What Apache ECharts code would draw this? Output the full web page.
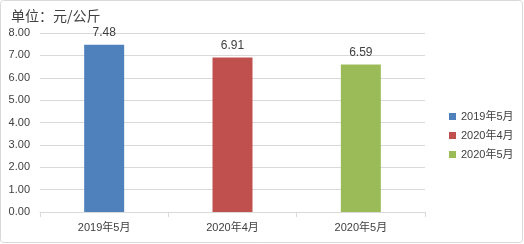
<!DOCTYPE html>
<html>
<head>
<meta charset="utf-8">
<script src="https://cdn.jsdelivr.net/npm/echarts@6/dist/echarts.min.js"></script>
<style>html,body{margin:0;padding:0;background:#fff;}#c{width:524px;height:244px;}</style>
</head>
<body>
<div id="c"></div>
<script>
var categories = ['2019年5月', '2020年4月', '2020年5月'];
var values = [7.48, 6.91, 6.59];
var colors = ['#4f81bd', '#c0504d', '#9bbb59'];
var yTicks = {min: 0, max: 8, interval: 1};
var unitTitle = '单位：元/公斤';

var font = 'Liberation Sans, "Noto Sans CJK SC", sans-serif';
var series = categories.map(function (name, i) {
  var d = categories.map(function (_, j) { return j === i ? values[i] : '-'; });
  return {
    name: name, type: 'bar', data: d, barWidth: 40, barGap: '-100%',
    itemStyle: {color: colors[i]},
    label: {show: true, position: 'top', distance: 6, color: '#404040', fontSize: 12, fontFamily: font,
      formatter: function (p) { return p.value.toFixed(2); }}
  };
});

var chart = echarts.init(document.getElementById('c'), null, {renderer: 'canvas'});
chart.setOption({
  animation: false,
  textStyle: {fontFamily: font},
  graphic: [{type: 'rect', shape: {x: 0.5, y: 0.5, width: 522, height: 242, r: 3}, style: {fill: 'none', stroke: '#d9d9d9', lineWidth: 1}, silent: true}],
  title: {text: unitTitle, left: 6, top: 4, textStyle: {fontSize: 14, fontWeight: 'normal', color: '#404040', fontFamily: '"Noto Sans CJK SC", sans-serif'}},
  legend: {orient: 'vertical', left: 444, top: 106, itemWidth: 7, itemHeight: 7, itemGap: 8,
    icon: 'rect', textStyle: {fontSize: 11, color: '#404040', fontFamily: font}, data: categories},
  grid: {left: 40, right: 99, top: 33, bottom: 32},
  xAxis: {type: 'category', data: categories,
    axisLine: {lineStyle: {color: '#d9d9d9'}},
    axisTick: {show: true, length: 5, lineStyle: {color: '#d9d9d9'}},
    axisLabel: {color: '#404040', fontSize: 11, margin: 10, fontFamily: font}},
  yAxis: {type: 'value', min: yTicks.min, max: yTicks.max, interval: yTicks.interval,
    axisLine: {show: false}, axisTick: {show: false},
    splitLine: {lineStyle: {color: '#d9d9d9'}},
    axisLabel: {color: '#404040', fontSize: 11, margin: 10, fontFamily: font,
      formatter: function (v) { return v.toFixed(2); }}},
  series: series
});
</script>
</body>
</html>
